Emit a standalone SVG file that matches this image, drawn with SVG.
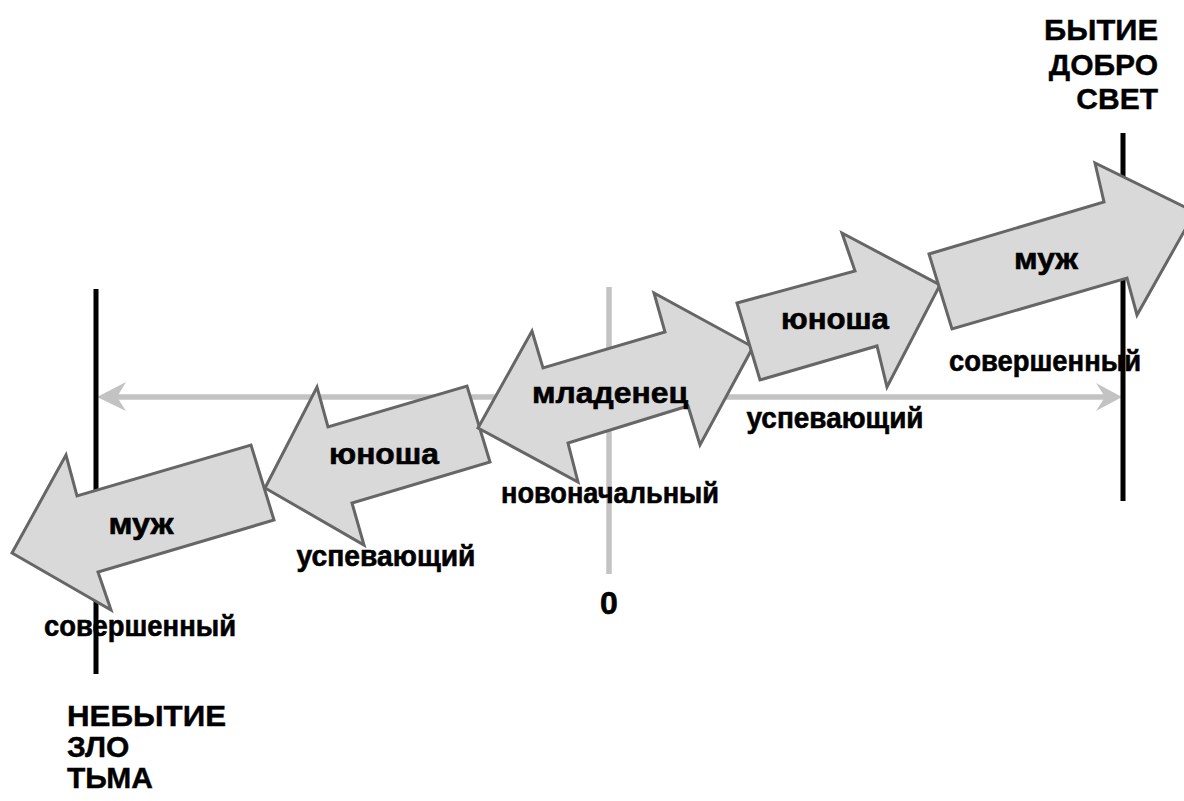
<svg xmlns="http://www.w3.org/2000/svg" width="1184" height="801" viewBox="0 0 1184 801">
<style>
.arr{fill:#d9d9d9;stroke:#666666;stroke-width:3;stroke-linejoin:miter}
.lbl{font-family:"Liberation Sans",Arial,sans-serif;font-weight:bold;font-size:30px;fill:#000;stroke:#000;stroke-width:0.6;text-anchor:middle}
.cap{font-family:"Liberation Sans",Arial,sans-serif;font-weight:bold;font-size:30px;fill:#000;stroke:#000;stroke-width:0.4}
.gray{stroke:#c3c3c3;stroke-width:5.5;fill:none}
.blk{stroke:#000;stroke-width:5;fill:none}
</style>
<rect width="1184" height="801" fill="#fff"/>
<g id="connectors">
<line class="gray" x1="105" y1="397" x2="1112" y2="397"/>
<path d="M97,397 L126,382 L117,397 L126,411 Z" fill="#c3c3c3"/>
<path d="M1122,397 L1096,383 L1105,397 L1096,411 Z" fill="#c3c3c3"/>
<line class="gray" x1="609" y1="287" x2="609" y2="574"/>
<line class="blk" x1="96" y1="289" x2="96" y2="674"/>
<line class="blk" x1="1123" y1="133" x2="1123" y2="501"/>
</g>
<g id="arrow-muzh-left">
<polygon class="arr" points="12,553 66,455 77,496 251,445 274,520 98,572 111,610"/>
<text class="lbl" x="141" y="534" textLength="65" lengthAdjust="spacingAndGlyphs">муж</text>
</g>
<g id="arrow-yunosha-left">
<polygon class="arr" points="265,488 317,387 328,427 467,386 490,462 352,503 364,545"/>
<text class="lbl" x="384" y="464" textLength="110" lengthAdjust="spacingAndGlyphs">юноша</text>
</g>
<g id="arrow-mladenets">
<polygon class="arr" points="478,428 532,331 543,368 665,332 654,293 753,347 700,445 688,406 568,443 578,482"/>
<text class="lbl" x="610" y="403" textLength="156" lengthAdjust="spacingAndGlyphs">младенец</text>
</g>
<g id="arrow-yunosha-right">
<polygon class="arr" points="737,303 855,271 842,233 940,285 887,387 877,346 760,380"/>
<text class="lbl" x="835" y="329" textLength="108" lengthAdjust="spacingAndGlyphs">юноша</text>
</g>
<g id="arrow-muzh-right">
<polygon class="arr" points="929,254 1104,202 1095,163 1195,212 1137,315 1127,278 952,329"/>
<text class="lbl" x="1046" y="269" textLength="64" lengthAdjust="spacingAndGlyphs">муж</text>
</g>
<g id="labels">
<text class="lbl" x="140" y="636" textLength="192" lengthAdjust="spacingAndGlyphs">совершенный</text>
<text class="lbl" x="386" y="566" textLength="179" lengthAdjust="spacingAndGlyphs">успевающий</text>
<text class="lbl" x="610" y="503" textLength="218" lengthAdjust="spacingAndGlyphs">новоначальный</text>
<text class="lbl" x="835" y="428" textLength="177" lengthAdjust="spacingAndGlyphs">успевающий</text>
<text class="lbl" x="1045" y="371" textLength="192" lengthAdjust="spacingAndGlyphs">совершенный</text>
<text class="lbl" x="609" y="614" style="font-size:32px">0</text>
</g>
<g id="top-right">
<text class="cap" x="1158" y="40" text-anchor="end" textLength="114" lengthAdjust="spacingAndGlyphs">БЫТИЕ</text>
<text class="cap" x="1158" y="75" text-anchor="end">ДОБРО</text>
<text class="cap" x="1158" y="109" text-anchor="end">СВЕТ</text>
</g>
<g id="bottom-left">
<text class="cap" x="67" y="726" textLength="159" lengthAdjust="spacingAndGlyphs">НЕБЫТИЕ</text>
<text class="cap" x="67" y="757">ЗЛО</text>
<text class="cap" x="67" y="788">ТЬМА</text>
</g>
</svg>
